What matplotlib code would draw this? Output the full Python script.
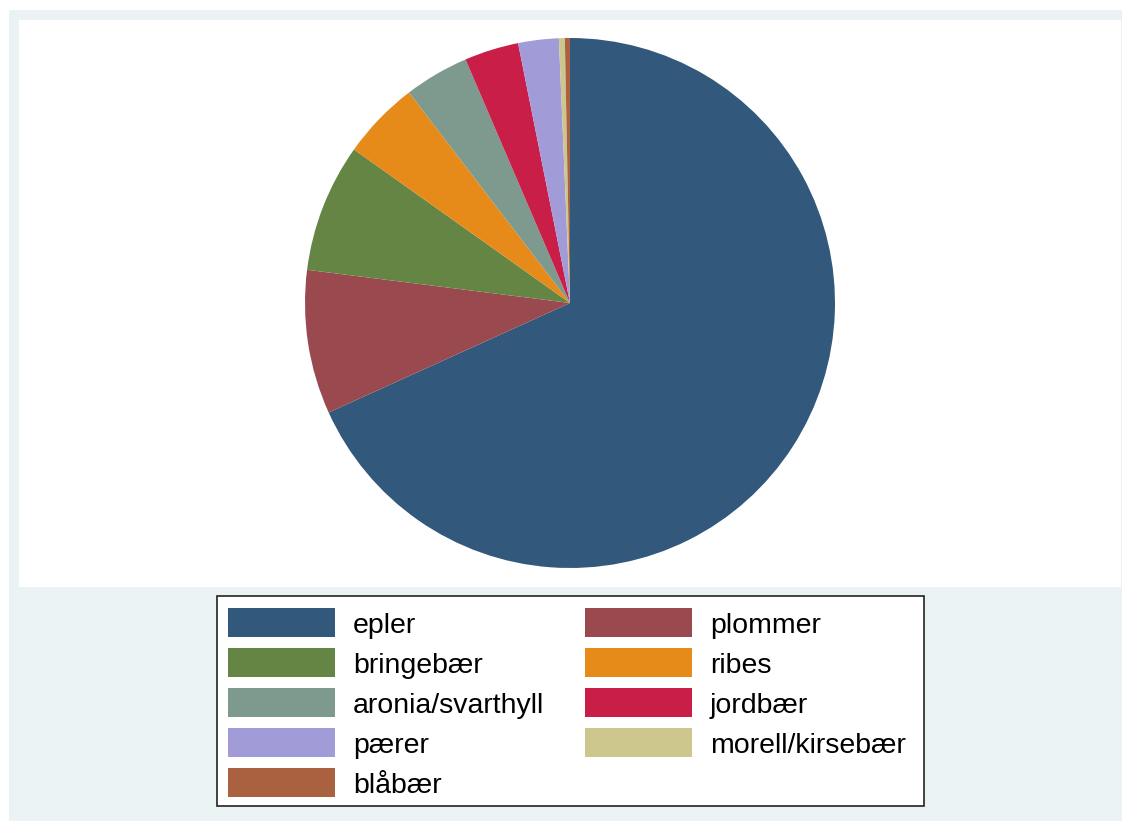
import matplotlib
matplotlib.use("Agg")
import matplotlib.pyplot as plt
from matplotlib.patches import Rectangle

plt.rcParams['font.family'] = ['Liberation Sans', 'DejaVu Sans']

# share of total production (%)
fruits = ['epler', 'plommer', 'bringebær', 'ribes', 'aronia/svarthyll',
          'jordbær', 'pærer', 'morell/kirsebær', 'blåbær']
shares = [68.22, 8.78, 7.83, 4.78, 3.94, 3.31, 2.47, 0.36, 0.31]
colors = ['#32597C', '#9A4A4F', '#648544', '#E68A1A', '#7E9A8E',
          '#C81E48', '#A19BD8', '#CDC78E', '#A9613F']

W, H = 1122, 821
fig = plt.figure(figsize=(W / 100, H / 100), dpi=100, facecolor='white')

# backdrop layer in pixel coordinates (y runs downward)
bg = fig.add_axes([0, 0, 1, 1])
bg.set_xlim(0, W)
bg.set_ylim(H, 0)
bg.axis('off')
bg.add_patch(Rectangle((9, 10), W - 9, H - 10, facecolor='#EAF2F3', edgecolor='none'))
bg.add_patch(Rectangle((19, 20), 1102, 567, facecolor='white', edgecolor='none'))

# pie
cx, cy, r = 570, 303, 265
ax = fig.add_axes([(cx - r) / W, (H - cy - r) / H, 2 * r / W, 2 * r / H])
ax.pie(shares, colors=colors, startangle=90, counterclock=False,
       wedgeprops=dict(linewidth=0.3, edgecolor='none'))
ax.set_xlim(-1, 1)
ax.set_ylim(-1, 1)
ax.set_aspect('auto')
ax.axis('off')

# legend box, two columns
bg.add_patch(Rectangle((217, 596), 707, 210, facecolor='white',
                       edgecolor='#222222', linewidth=1.2))
col_x = [228, 585]
row_y0, row_step = 623, 40
for i, (name, c) in enumerate(zip(fruits, colors)):
    x = col_x[i % 2]
    y = row_y0 + (i // 2) * row_step
    bg.add_patch(Rectangle((x, y - 14.5), 107, 29, facecolor=c, edgecolor='none'))
    bg.text(x + 125, y + 3, name, fontsize=20.5, va='center', ha='left', color='black')

fig.savefig('out.png', dpi=100, facecolor=fig.get_facecolor())
